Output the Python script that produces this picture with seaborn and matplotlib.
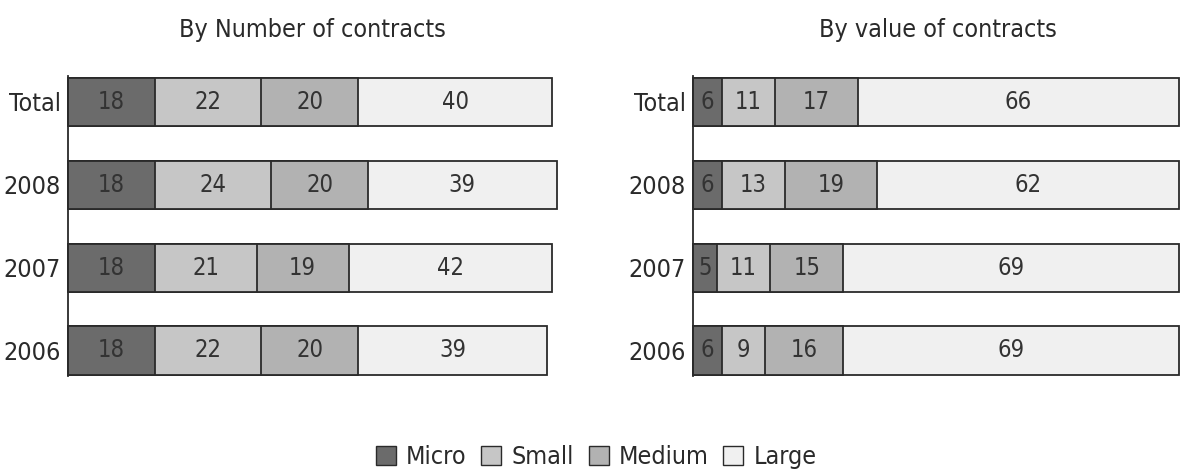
import pandas as pd
import matplotlib.pyplot as plt
import seaborn as sns
from matplotlib.patches import Patch

years = ['Total', '2008', '2007', '2006']
sizes = ['Micro', 'Small', 'Medium', 'Large']
colors = ['#6b6b6b', '#c6c6c6', '#b2b2b2', '#f0f0f0']

# share of contracts by company size (%)
number_micro = [18, 18, 18, 18]
number_small = [22, 24, 21, 22]
number_medium = [20, 20, 19, 20]
number_large = [40, 39, 42, 39]

value_micro = [6, 6, 5, 6]
value_small = [11, 13, 11, 9]
value_medium = [17, 19, 15, 16]
value_large = [66, 62, 69, 69]

sns.set_style('white')
plt.rcParams['font.family'] = ['DejaVu Sans']
plt.rcParams['font.stretch'] = 'condensed'

fig = plt.figure(figsize=(11.92, 4.75), dpi=100)
ax1 = fig.add_axes([0.057, 0.208, 0.41, 0.632])
ax2 = fig.add_axes([0.581, 0.208, 0.412, 0.632])


def draw_panel(ax, series, title):
    df = pd.DataFrame(dict(zip(sizes, series)), index=years)
    cum = df.cumsum(axis=1)
    # overlay cumulative bars, widest first
    for size, col in reversed(list(zip(sizes, colors))):
        d = pd.DataFrame({'year': years, 'val': cum[size].values})
        sns.barplot(data=d, x='val', y='year', order=years, orient='h', ax=ax,
                    color=col, saturation=1, width=0.58, edgecolor='#2a2a2a',
                    linewidth=1.3, errorbar=None)
    for i, yr in enumerate(years):
        start = 0
        for size in sizes:
            v = df.loc[yr, size]
            ax.text(start + v / 2, i, str(v), ha='center', va='center',
                    fontsize=17, color='#333333')
            start += v
    ax.set_xlim(0, 101)
    ax.set_ylim(3.31, -0.31)
    ax.set_xticks([])
    ax.set_xlabel('')
    ax.set_ylabel('')
    ax.tick_params(axis='y', length=0, pad=5, labelsize=18, labelcolor='#2a2a2a')
    for s in ['top', 'right', 'bottom']:
        ax.spines[s].set_visible(False)
    ax.spines['left'].set_color('#2a2a2a')
    ax.spines['left'].set_linewidth(1.3)
    for p in ax.patches:
        p.set_clip_on(False)
    ax.set_title(title, fontsize=18, color='#2a2a2a', pad=28)


draw_panel(ax1, [number_micro, number_small, number_medium, number_large],
           'By Number of contracts')
draw_panel(ax2, [value_micro, value_small, value_medium, value_large],
           'By value of contracts')

handles = [Patch(facecolor=c, edgecolor='#2a2a2a', linewidth=1.0) for c in colors]
fig.legend(handles, sizes, loc='lower center', bbox_to_anchor=(0.5, -0.035), ncol=4,
           frameon=False, fontsize=18, handlelength=0.8, handleheight=0.8,
           handletextpad=0.4, columnspacing=0.6, labelcolor='#2a2a2a')

fig.savefig('out.png', dpi=100)
